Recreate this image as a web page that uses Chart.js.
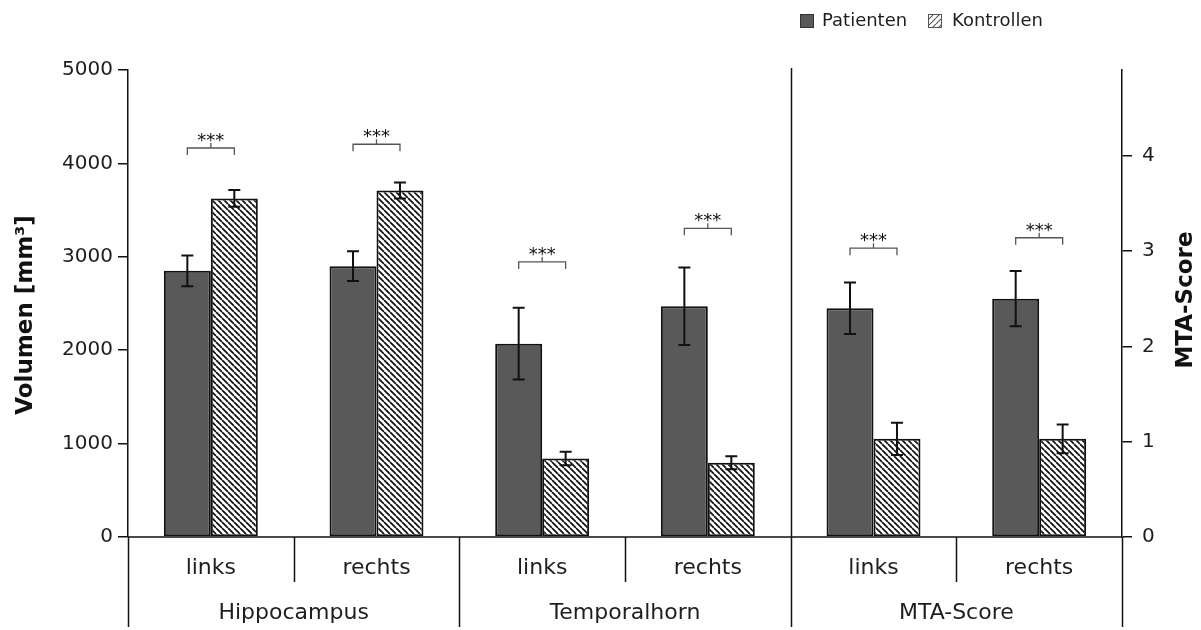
<!DOCTYPE html>
<html>
<head>
<meta charset="utf-8">
<script src="https://cdn.jsdelivr.net/npm/chart.js@4.4.1/dist/chart.umd.min.js"></script>
<style>
  html, body { margin: 0; padding: 0; background: #fff; }
  #wrap { width: 1201px; height: 630px; }
</style>
</head>
<body>
<div id="wrap"><canvas id="chart" width="1201" height="630"></canvas></div>
<script>
// Kategorien
const categories = ['links', 'rechts', 'links', 'rechts', 'links', 'rechts'];
const groups = ['Hippocampus', 'Temporalhorn', 'MTA-Score'];

// Volumen (mm³), linke Achse
const patVolumen = [2850, 2900, 2070, 2470, null, null];
const patVolumenSD = [165, 160, 385, 415, null, null];
const konVolumen = [3625, 3710, 840, 795, null, null];
const konVolumenSD = [90, 85, 72, 70, null, null];

// MTA-Score, rechte Achse
const patMTA = [null, null, null, null, 2.40, 2.50];
const patMTASD = [null, null, null, null, 0.27, 0.29];
const konMTA = [null, null, null, null, 1.03, 1.03];
const konMTASD = [null, null, null, null, 0.17, 0.15];

// Signifikanz-Klammern (Höhe in Achseneinheiten)
const sigLevel = [4165, 4205, 2945, 3305, 3.03, 3.14];
const sigText = '***';

const leftMax = 5000, leftStep = 1000;
const rightMax = 4.9, rightStep = 1;

const FONT = '"DejaVu Sans", Verdana, sans-serif';
const TXT = '#1e1e1e';

const ctx = document.getElementById('chart').getContext('2d');

function makeHatch(back) {
    const c = document.createElement('canvas');
    c.width = 6; c.height = 6;
    const g = c.getContext('2d');
    g.fillStyle = '#fff';
    g.fillRect(0, 0, 6, 6);
    g.strokeStyle = back ? '#111' : '#555';
    g.lineWidth = back ? 1.7 : 1.1;
    g.beginPath();
    for (const o of [-6, 0, 6]) {
        if (back) { g.moveTo(o, 0); g.lineTo(o + 6, 6); }
        else { g.moveTo(o, 6); g.lineTo(o + 6, 0); }
    }
    g.stroke();
    return ctx.createPattern(c, 'repeat');
}
const hatch = makeHatch(true);
const hatchLegend = makeHatch(false);

// Fehlerbalken
const errorBars = {
    id: 'errorBars',
    afterDatasetsDraw(chart) {
        const c = chart.ctx;
        c.save();
        c.strokeStyle = '#111';
        c.lineWidth = 2;
        chart.data.datasets.forEach((ds, d) => {
            const meta = chart.getDatasetMeta(d);
            const scale = chart.scales[ds.yAxisID];
            meta.data.forEach((el, i) => {
                const v = ds.data[i], s = ds.sd[i];
                if (v == null || s == null) return;
                const yt = scale.getPixelForValue(v + s);
                const yb = scale.getPixelForValue(v - s);
                c.beginPath();
                c.moveTo(el.x, yt); c.lineTo(el.x, yb);
                c.moveTo(el.x - 6, yt); c.lineTo(el.x + 6, yt);
                c.moveTo(el.x - 6, yb); c.lineTo(el.x + 6, yb);
                c.stroke();
            });
        });
        c.restore();
    }
};

// Klammern, Achsenbeschriftung, Legende
const decorations = {
    id: 'decorations',
    afterDraw(chart) {
        const c = chart.ctx;
        const a = chart.chartArea;
        const cw = (a.right - a.left) / categories.length;
        c.save();

        // Signifikanz
        c.strokeStyle = '#555';
        c.lineWidth = 1.3;
        sigLevel.forEach((lvl, i) => {
            const p = i < 4 ? 0 : 2;
            const x1 = chart.getDatasetMeta(p).data[i].x;
            const x2 = chart.getDatasetMeta(p + 1).data[i].x;
            const scale = i < 4 ? chart.scales.y : chart.scales.y1;
            const y = scale.getPixelForValue(lvl);
            const xm = (x1 + x2) / 2;
            c.beginPath();
            c.moveTo(x1, y + 7); c.lineTo(x1, y); c.lineTo(x2, y); c.lineTo(x2, y + 7);
            c.moveTo(xm, y); c.lineTo(xm, y - 5);
            c.stroke();
            c.fillStyle = '#111';
            c.font = '18px ' + FONT;
            c.textAlign = 'center';
            c.textBaseline = 'alphabetic';
            c.fillText(sigText, xm, y - 2);
        });

        // x-Achse und Trennlinien
        c.strokeStyle = '#111';
        c.lineWidth = 1.5;
        c.beginPath();
        c.moveTo(a.left, a.bottom); c.lineTo(a.right, a.bottom);
        for (let k = 0; k <= categories.length; k++) {
            const x = Math.round(a.left + k * cw) + 0.5;
            const full = k % 2 === 0;
            c.moveTo(x, k === 4 ? a.top - 2 : a.bottom);
            c.lineTo(x, a.bottom + (full ? 90 : 45));
        }
        c.stroke();

        c.fillStyle = TXT;
        c.font = '22px ' + FONT;
        c.textAlign = 'center';
        c.textBaseline = 'middle';
        categories.forEach((t, i) => c.fillText(t, a.left + (i + 0.5) * cw, a.bottom + 31));
        groups.forEach((t, g) => c.fillText(t, a.left + (g * 2 + 1) * cw, a.bottom + 76));

        // Achsentitel
        c.font = 'bold 23px ' + FONT;
        c.fillStyle = '#111';
        c.save();
        c.translate(26, 315);
        c.rotate(-Math.PI / 2);
        c.fillText('Volumen [mm³]', 0, 0);
        c.restore();
        c.save();
        c.translate(1186, 300);
        c.rotate(-Math.PI / 2);
        c.fillText('MTA-Score', 0, 0);
        c.restore();

        // Legende
        c.font = '18px ' + FONT;
        c.textAlign = 'left';
        c.textBaseline = 'middle';
        c.lineWidth = 1;
        c.fillStyle = '#595959';
        c.fillRect(800, 14, 14, 14);
        c.strokeStyle = '#333';
        c.strokeRect(800.5, 14.5, 13, 13);
        c.fillStyle = TXT;
        c.fillText('Patienten', 822, 21);
        c.fillStyle = hatchLegend;
        c.fillRect(928, 14, 14, 14);
        c.strokeStyle = '#555';
        c.strokeRect(928.5, 14.5, 13, 13);
        c.fillStyle = TXT;
        c.fillText('Kontrollen', 952, 21);

        c.restore();
    }
};

const barStyle = { borderColor: '#111', borderWidth: 2, borderSkipped: false };

new Chart(ctx, {
    type: 'bar',
    data: {
        labels: categories,
        datasets: [
            Object.assign({ label: 'Patienten', data: patVolumen, sd: patVolumenSD, yAxisID: 'y', backgroundColor: '#595959' }, barStyle),
            Object.assign({ label: 'Kontrollen', data: konVolumen, sd: konVolumenSD, yAxisID: 'y', backgroundColor: hatch }, barStyle),
            Object.assign({ label: 'Patienten', data: patMTA, sd: patMTASD, yAxisID: 'y1', backgroundColor: '#595959' }, barStyle),
            Object.assign({ label: 'Kontrollen', data: konMTA, sd: konMTASD, yAxisID: 'y1', backgroundColor: hatch }, barStyle)
        ]
    },
    options: {
        responsive: false,
        animation: false,
        devicePixelRatio: 1,
        skipNull: true,
        categoryPercentage: 0.567,
        barPercentage: 1,
        layout: { padding: { top: 70, left: 0, right: 0, bottom: 0 } },
        plugins: { legend: { display: false }, tooltip: { enabled: false } },
        scales: {
            x: {
                ticks: { display: false },
                grid: { display: false },
                border: { display: false },
                afterFit(s) { s.height = 93; }
            },
            y: {
                position: 'left',
                min: 0,
                max: leftMax,
                ticks: { stepSize: leftStep, color: TXT, font: { family: FONT, size: 20 }, padding: 5,
                         callback: v => String(v) },
                grid: { drawOnChartArea: false, tickLength: 10, color: '#111', lineWidth: 1.5 },
                border: { color: '#111', width: 1.5 },
                afterFit(s) { s.width = 128; }
            },
            y1: {
                position: 'right',
                min: 0,
                max: rightMax,
                afterBuildTicks(s) { s.ticks = s.ticks.filter(t => Number.isInteger(t.value)); },
                ticks: { stepSize: rightStep, color: TXT, font: { family: FONT, size: 20 }, padding: 10,
                         callback: v => String(v) },
                grid: { drawOnChartArea: false, tickLength: 10, color: '#111', lineWidth: 1.5 },
                border: { color: '#111', width: 1.5 },
                afterFit(s) { s.width = 79; }
            }
        }
    },
    plugins: [errorBars, decorations]
});
</script>
</body>
</html>
